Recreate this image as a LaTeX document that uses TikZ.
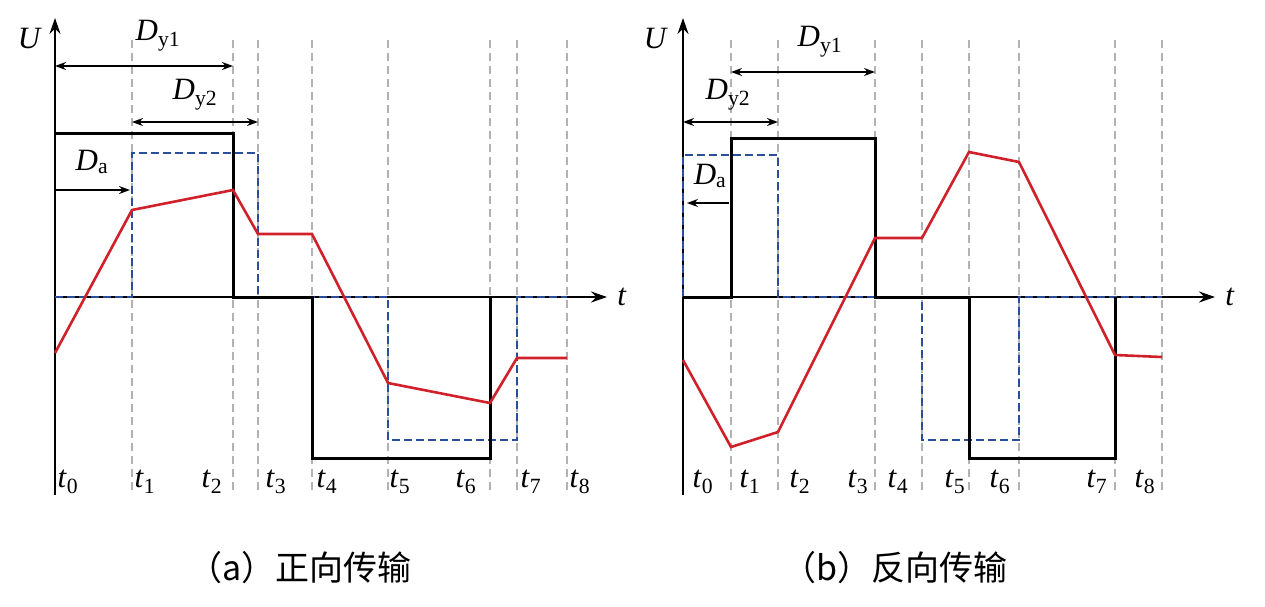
\documentclass[tikz,border=0pt]{standalone}
\usepackage{fontspec}
\setmainfont{Liberation Serif}
\newfontfamily\cjk{Noto Sans CJK SC}
\usetikzlibrary{arrows.meta}
\definecolor{bl}{HTML}{2A4F9A}
\definecolor{rd}{HTML}{D0202A}
\tikzset{
 ax/.style={line width=2pt,-{Stealth[length=16pt,width=11pt]}},
 grid/.style={gray!60,line width=1.1pt,dash pattern=on 8pt off 5pt},
 blk/.style={black,line width=3pt},
 blu/.style={bl,line width=2.6pt,dash pattern=on 8pt off 4pt},
 red/.style={rd,line width=2.6pt},
 dim/.style={line width=1.5pt,{Stealth[length=11pt,width=8pt]}-{Stealth[length=11pt,width=8pt]}},
 onearr/.style={line width=1.5pt,-{Stealth[length=11pt,width=8pt]}},
 lab/.style={font=\fontsize{31}{31}\selectfont},
 captxt/.style={font=\fontsize{34}{34}\selectfont}
}
\newcommand{\tsubx}[1]{\textit{t}\textsubscript{#1}}
\begin{document}
\begin{tikzpicture}[x=1pt,y=-1pt]
\useasboundingbox (0,0) rectangle (1265,606);
\foreach \x in {132,233,258,312,388,490,517,567}
  \draw[grid] (\x,40) -- (\x,495);
\coordinate (Lo) at (55,495); \coordinate (Lu) at (55,18);
\coordinate (Lh) at (55,297); \coordinate (Lt) at (607,297);
\draw[ax] (Lo) -- (Lu);
\draw[ax] (Lh) -- (Lt);
\node[lab] (LU) at (30,38) {\textit{U}};
\node[lab] (Lti) at (622,297) {\textit{t}};
\draw[blu] (55,297) -- (132,297) -- (132,153) -- (258,153) -- (258,297) -- (388,297) -- (388,440) -- (517,440) -- (517,297) -- (567,297);
\draw[blk] (55,133) -- (233,133) -- (233,297) -- (312,297) -- (312,458) -- (490,458) -- (490,297);
\draw[red] (55,353) -- (132,210) -- (233,190) -- (258,234) -- (312,234) -- (388,383) -- (490,403) -- (517,358) -- (567,358);
\coordinate (a1) at (55,66); \coordinate (a2) at (233,66);
\draw[dim] (a1) -- (a2);
\node[lab] (Ldy1) at (158,36) {\textit{D}\textsubscript{y1}};
\coordinate (b1) at (132,122); \coordinate (b2) at (258,122);
\draw[dim] (b1) -- (b2);
\node[lab] (Ldy2) at (195,95) {\textit{D}\textsubscript{y2}};
\coordinate (c1) at (55,190); \coordinate (c2) at (130,190);
\draw[onearr] (c1) -- (c2);
\node[lab] (Lda) at (92,162) {\textit{D}\textsubscript{a}};
\foreach \x/\k in {68/0,145/1,212/2,276/3,327/4,400/5,466/6,531/7,580/8}
  \node[lab] (Lt\k) at (\x,482) {\tsubx{\k}};
\node[captxt] (capa) at (300,568) {\cjk （a）正向传输};
\foreach \x in {731,778,875,922,969,1019,1115,1162}
  \draw[grid] (\x,40) -- (\x,495);
\coordinate (Ro) at (683,495); \coordinate (Ru) at (683,18);
\coordinate (Rh) at (683,297); \coordinate (Rt) at (1215,297);
\draw[ax] (Ro) -- (Ru);
\draw[ax] (Rh) -- (Rt);
\node[lab] (RU) at (656,38) {\textit{U}};
\node[lab] (Rti) at (1230,297) {\textit{t}};
\draw[blu] (683,297) -- (683,155) -- (778,155) -- (778,297) -- (922,297) -- (922,440) -- (1019,440) -- (1019,297) -- (1162,297);
\draw[blk] (683,297) -- (731,297) -- (731,138) -- (875,138) -- (875,297) -- (969,297) -- (969,458) -- (1115,458) -- (1115,297);
\draw[red] (683,360) -- (731,447) -- (778,432) -- (875,238) -- (922,238) -- (969,152) -- (1019,162) -- (1115,355) -- (1162,357);
\coordinate (d1) at (731,72); \coordinate (d2) at (875,72);
\draw[dim] (d1) -- (d2);
\node[lab] (Rdy1) at (820,42) {\textit{D}\textsubscript{y1}};
\coordinate (e1) at (683,122); \coordinate (e2) at (778,122);
\draw[dim] (e1) -- (e2);
\node[lab] (Rdy2) at (728,95) {\textit{D}\textsubscript{y2}};
\coordinate (f1) at (729,203); \coordinate (f2) at (687,203);
\draw[onearr] (f1) -- (f2);
\node[lab] (Rda) at (710,176) {\textit{D}\textsubscript{a}};
\foreach \x/\k in {703/0,750/1,800/2,858/3,898/4,955/5,1000/6,1097/7,1145/8}
  \node[lab] (Rt\k) at (\x,482) {\tsubx{\k}};
\node[captxt] (capb) at (895,568) {\cjk （b）反向传输};
\end{tikzpicture}
\end{document}
